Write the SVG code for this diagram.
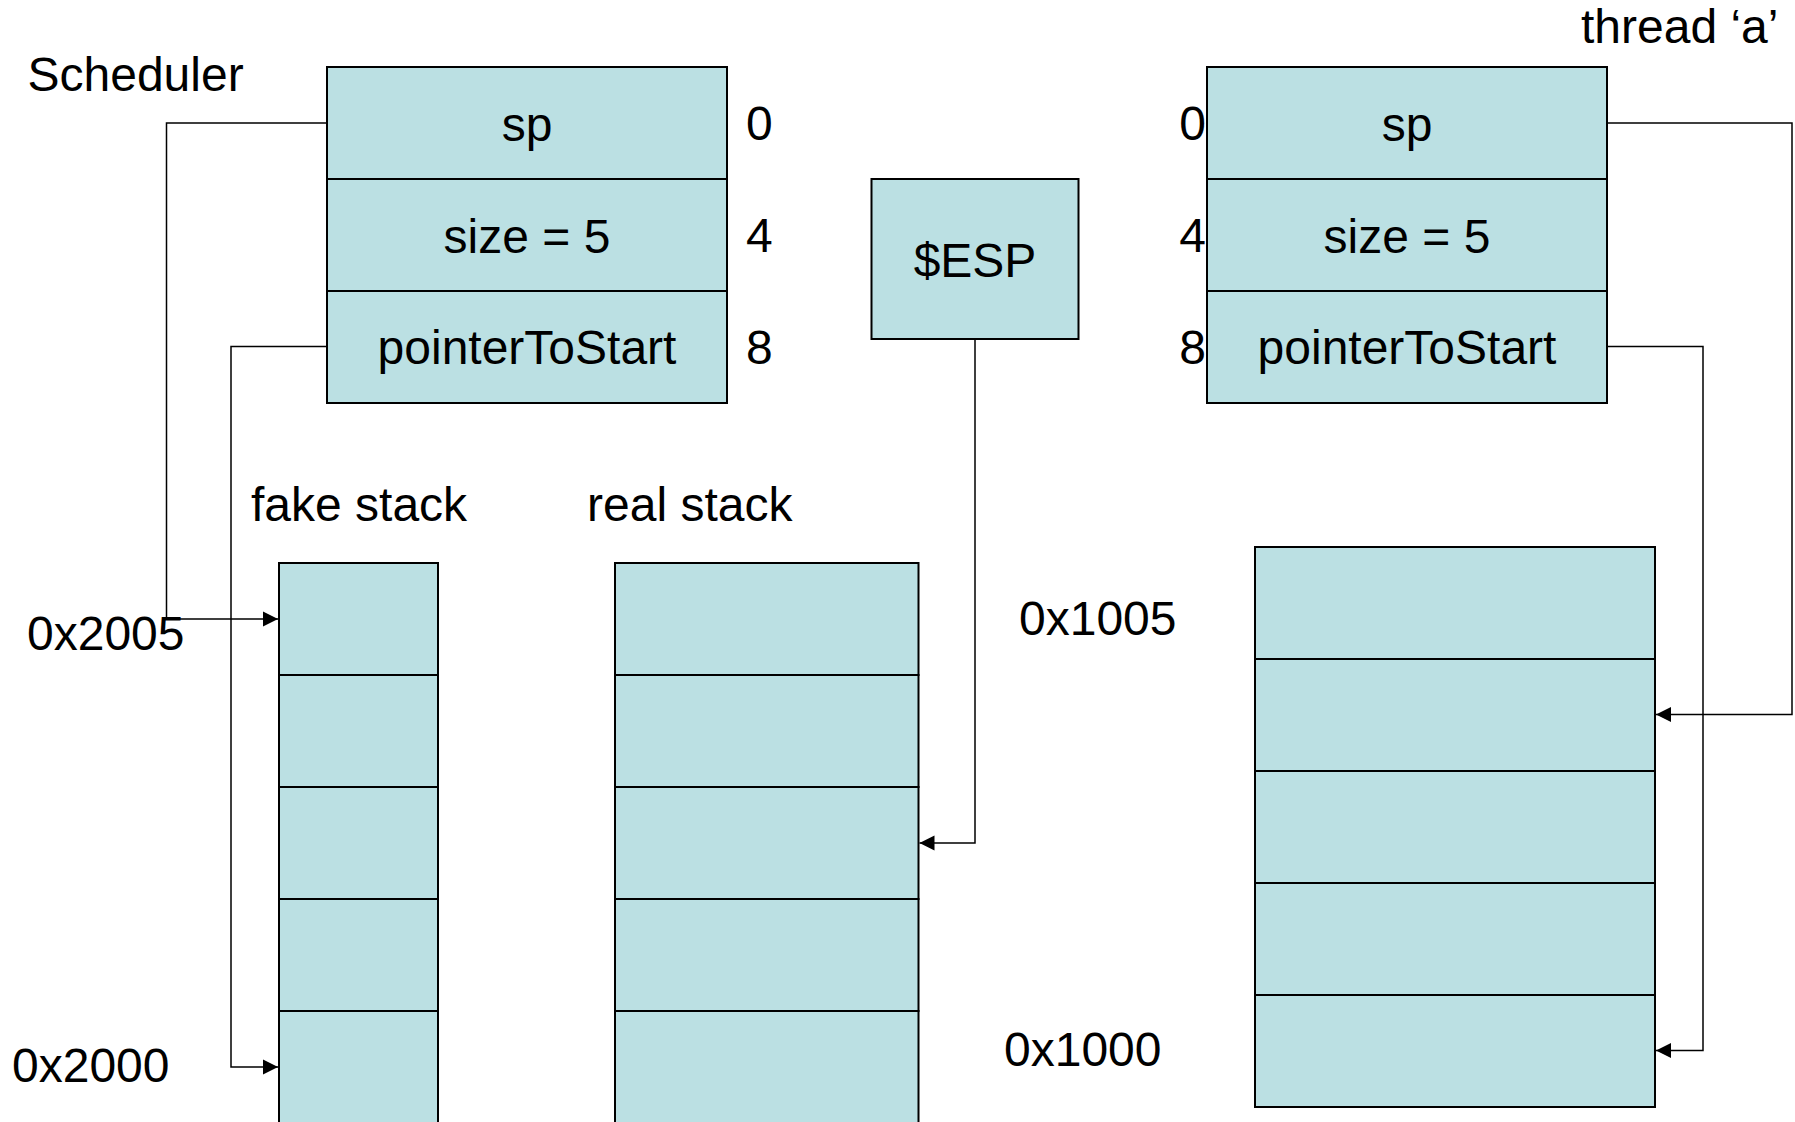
<svg xmlns="http://www.w3.org/2000/svg" width="1795" height="1122" viewBox="0 0 1795 1122">
<defs>
<style>
.cell{fill:#BBE0E3;stroke:#000;stroke-width:2}
.t{font-family:"Liberation Sans",Arial,sans-serif;font-size:48px;fill:#000}
.c{text-anchor:middle}
.e{text-anchor:end}
.conn{fill:none;stroke:#000;stroke-width:1.5}
</style>
<marker id="arr" markerUnits="userSpaceOnUse" markerWidth="16" markerHeight="16" refX="15" refY="8" orient="auto">
<path d="M0,0.5 L15,8 L0,15.5 Z" fill="#000"/>
</marker>
</defs>
<rect width="1795" height="1122" fill="#fff"/>

<g id="labels">
<text class="t" x="27.5" y="91">Scheduler</text>
<text class="t" x="1581" y="43">thread ‘a’</text>
<text class="t" x="251" y="521">fake stack</text>
<text class="t" x="587" y="521">real stack</text>
<text class="t" x="27" y="650">0x2005</text>
<text class="t" x="12" y="1082">0x2000</text>
<text class="t" x="1019" y="635">0x1005</text>
<text class="t" x="1004" y="1066">0x1000</text>
</g>

<g id="scheduler">
<rect class="cell" x="327" y="67" width="400" height="112"/>
<rect class="cell" x="327" y="179" width="400" height="112"/>
<rect class="cell" x="327" y="291" width="400" height="112"/>
<text class="t c" x="527" y="141">sp</text>
<text class="t c" x="527" y="253">size = 5</text>
<text class="t c" x="527" y="364">pointerToStart</text>
<text class="t" x="746" y="140">0</text>
<text class="t" x="746" y="252">4</text>
<text class="t" x="746" y="364">8</text>
</g>

<g id="thread-a">
<rect class="cell" x="1207" y="67" width="400" height="112"/>
<rect class="cell" x="1207" y="179" width="400" height="112"/>
<rect class="cell" x="1207" y="291" width="400" height="112"/>
<text class="t c" x="1407" y="141">sp</text>
<text class="t c" x="1407" y="253">size = 5</text>
<text class="t c" x="1407" y="364">pointerToStart</text>
<text class="t e" x="1206" y="140">0</text>
<text class="t e" x="1206" y="252">4</text>
<text class="t e" x="1206" y="364">8</text>
</g>

<g id="esp">
<rect class="cell" x="871.5" y="179" width="207" height="160"/>
<text class="t c" x="975" y="277">$ESP</text>
</g>

<g id="fake-stack">
<rect class="cell" x="279" y="563" width="159" height="112"/>
<rect class="cell" x="279" y="675" width="159" height="112"/>
<rect class="cell" x="279" y="787" width="159" height="112"/>
<rect class="cell" x="279" y="899" width="159" height="112"/>
<rect class="cell" x="279" y="1011" width="159" height="112"/>
</g>

<g id="real-stack">
<rect class="cell" x="615" y="563" width="303.5" height="112"/>
<rect class="cell" x="615" y="675" width="303.5" height="112"/>
<rect class="cell" x="615" y="787" width="303.5" height="112"/>
<rect class="cell" x="615" y="899" width="303.5" height="112"/>
<rect class="cell" x="615" y="1011" width="303.5" height="112"/>
</g>

<g id="thread-stack">
<rect class="cell" x="1255" y="547" width="400" height="112"/>
<rect class="cell" x="1255" y="659" width="400" height="112"/>
<rect class="cell" x="1255" y="771" width="400" height="112"/>
<rect class="cell" x="1255" y="883" width="400" height="112"/>
<rect class="cell" x="1255" y="995" width="400" height="112"/>
</g>

<g id="connectors">
<path class="conn" d="M326 123 H166.5 V619 H278" marker-end="url(#arr)"/>
<path class="conn" d="M326 346.5 H231 V1067 H278" marker-end="url(#arr)"/>
<path class="conn" d="M975 339 V843 H919.5" marker-end="url(#arr)"/>
<path class="conn" d="M1608 123 H1792 V714.5 H1656" marker-end="url(#arr)"/>
<path class="conn" d="M1608 346.5 H1703 V1050.5 H1656" marker-end="url(#arr)"/>
</g>
</svg>
